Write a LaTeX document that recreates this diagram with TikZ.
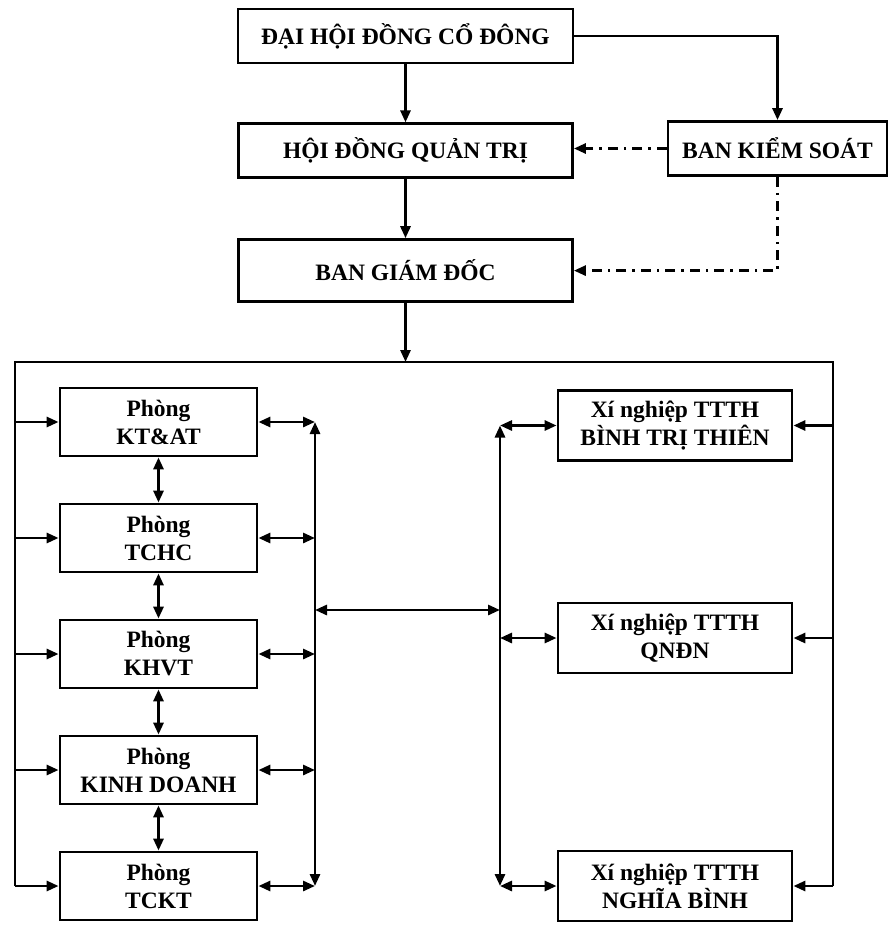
\documentclass[tikz,border=0pt]{standalone}
\usepackage{fontspec}
\setmainfont{Liberation Serif}
\usetikzlibrary{arrows.meta, positioning, calc}
\tikzset{
  topbox/.style={
    rectangle, draw=black, line width=2.8pt,
    minimum width=334pt, minimum height=54pt, inner sep=0pt,
    align=center, font=\fontsize{23.5}{28}\selectfont\bfseries
  },
  phong/.style={
    rectangle, draw=black, line width=2.8pt,
    minimum width=197pt, minimum height=68pt, inner sep=0pt,
    align=center, font=\fontsize{23.5}{28}\selectfont\bfseries
  },
  xnbox/.style={
    rectangle, draw=black, line width=2.8pt,
    minimum width=234pt, minimum height=70pt, inner sep=0pt,
    align=center, font=\fontsize{23.5}{28}\selectfont\bfseries
  },
  link/.style={line width=2.8pt, draw=black},
  arr/.style={link, -{Triangle[length=12pt,width=10pt]}},
  dbl/.style={link, {Triangle[length=12pt,width=10pt]}-{Triangle[length=12pt,width=10pt]}},
  dashdot/.style={link, dash pattern=on 10pt off 6pt on 2.5pt off 6pt}
}

\begin{document}
\begin{tikzpicture}[x=1pt, y=-1pt]
  \useasboundingbox (0,0) rectangle (890,926);

  \node[topbox, minimum width=335pt] (dhcd) at (405.5,36) {ĐẠI HỘI ĐỒNG CỔ ĐÔNG};
  \node[topbox, below=58pt of dhcd] (hdqt) {HỘI ĐỒNG QUẢN TRỊ};
  \node[topbox, minimum height=62pt, below=59pt of hdqt] (bgd) {BAN GIÁM ĐỐC};
  \node[topbox, minimum width=219pt] (bks) at (777.5,148.5) {BAN KIỂM SOÁT};

  \node[phong] (ktat) at (158.5,422) {Phòng\\KT\&AT};
  \node[phong, below=45.2pt of ktat] (tchc) {Phòng\\TCHC};
  \node[phong, below=45.2pt of tchc] (khvt) {Phòng\\KHVT};
  \node[phong, below=45.2pt of khvt] (kd) {Phòng\\KINH DOANH};
  \node[phong, below=45.2pt of kd] (tckt) {Phòng\\TCKT};

  \node[xnbox] (btt) at (675,425.5) {Xí nghiệp TTTH\\BÌNH TRỊ THIÊN};
  \node[xnbox] (qndn) at (675,638) {Xí nghiệp TTTH\\QNĐN};
  \node[xnbox] (nb) at (675,886) {Xí nghiệp TTTH\\NGHĨA BÌNH};

  \coordinate (fl) at (15,362);
  \coordinate (fr) at (833,362);
  \coordinate (lbus) at (315,610);
  \coordinate (rbus) at (500,610);

  \draw[arr] (dhcd) -- (hdqt);
  \draw[arr] (hdqt) -- (bgd);
  \draw[arr] (dhcd.east) -| (bks.north);
  \draw[dashdot, arr] (bks.west) -- (hdqt.east |- bks.west);
  \draw[dashdot, arr] (bks.south) |- (bgd.east);
  \draw[arr] (bgd.south) -- (bgd.south |- fl);

  \draw[link] (fl |- tckt) -- (fl) -- (fr) -- (fr |- nb);
  \foreach \n in {ktat,tchc,khvt,kd,tckt} {
    \draw[arr] (fl |- \n) -- (\n.west);
    \draw[dbl] (\n.east) -- (lbus |- \n);
  }
  \foreach \a/\b in {ktat/tchc,tchc/khvt,khvt/kd,kd/tckt}
    \draw[dbl] (\a) -- (\b);
  \foreach \n in {btt,qndn,nb} {
    \draw[arr] (fr |- \n) -- (\n.east);
    \draw[dbl] (rbus |- \n) -- (\n.west);
  }
  \draw[dbl] (lbus |- ktat) -- (lbus |- tckt);
  \draw[dbl] (rbus |- btt) -- (rbus |- nb);
  \draw[dbl] (lbus) -- (rbus);
\end{tikzpicture}
\end{document}
